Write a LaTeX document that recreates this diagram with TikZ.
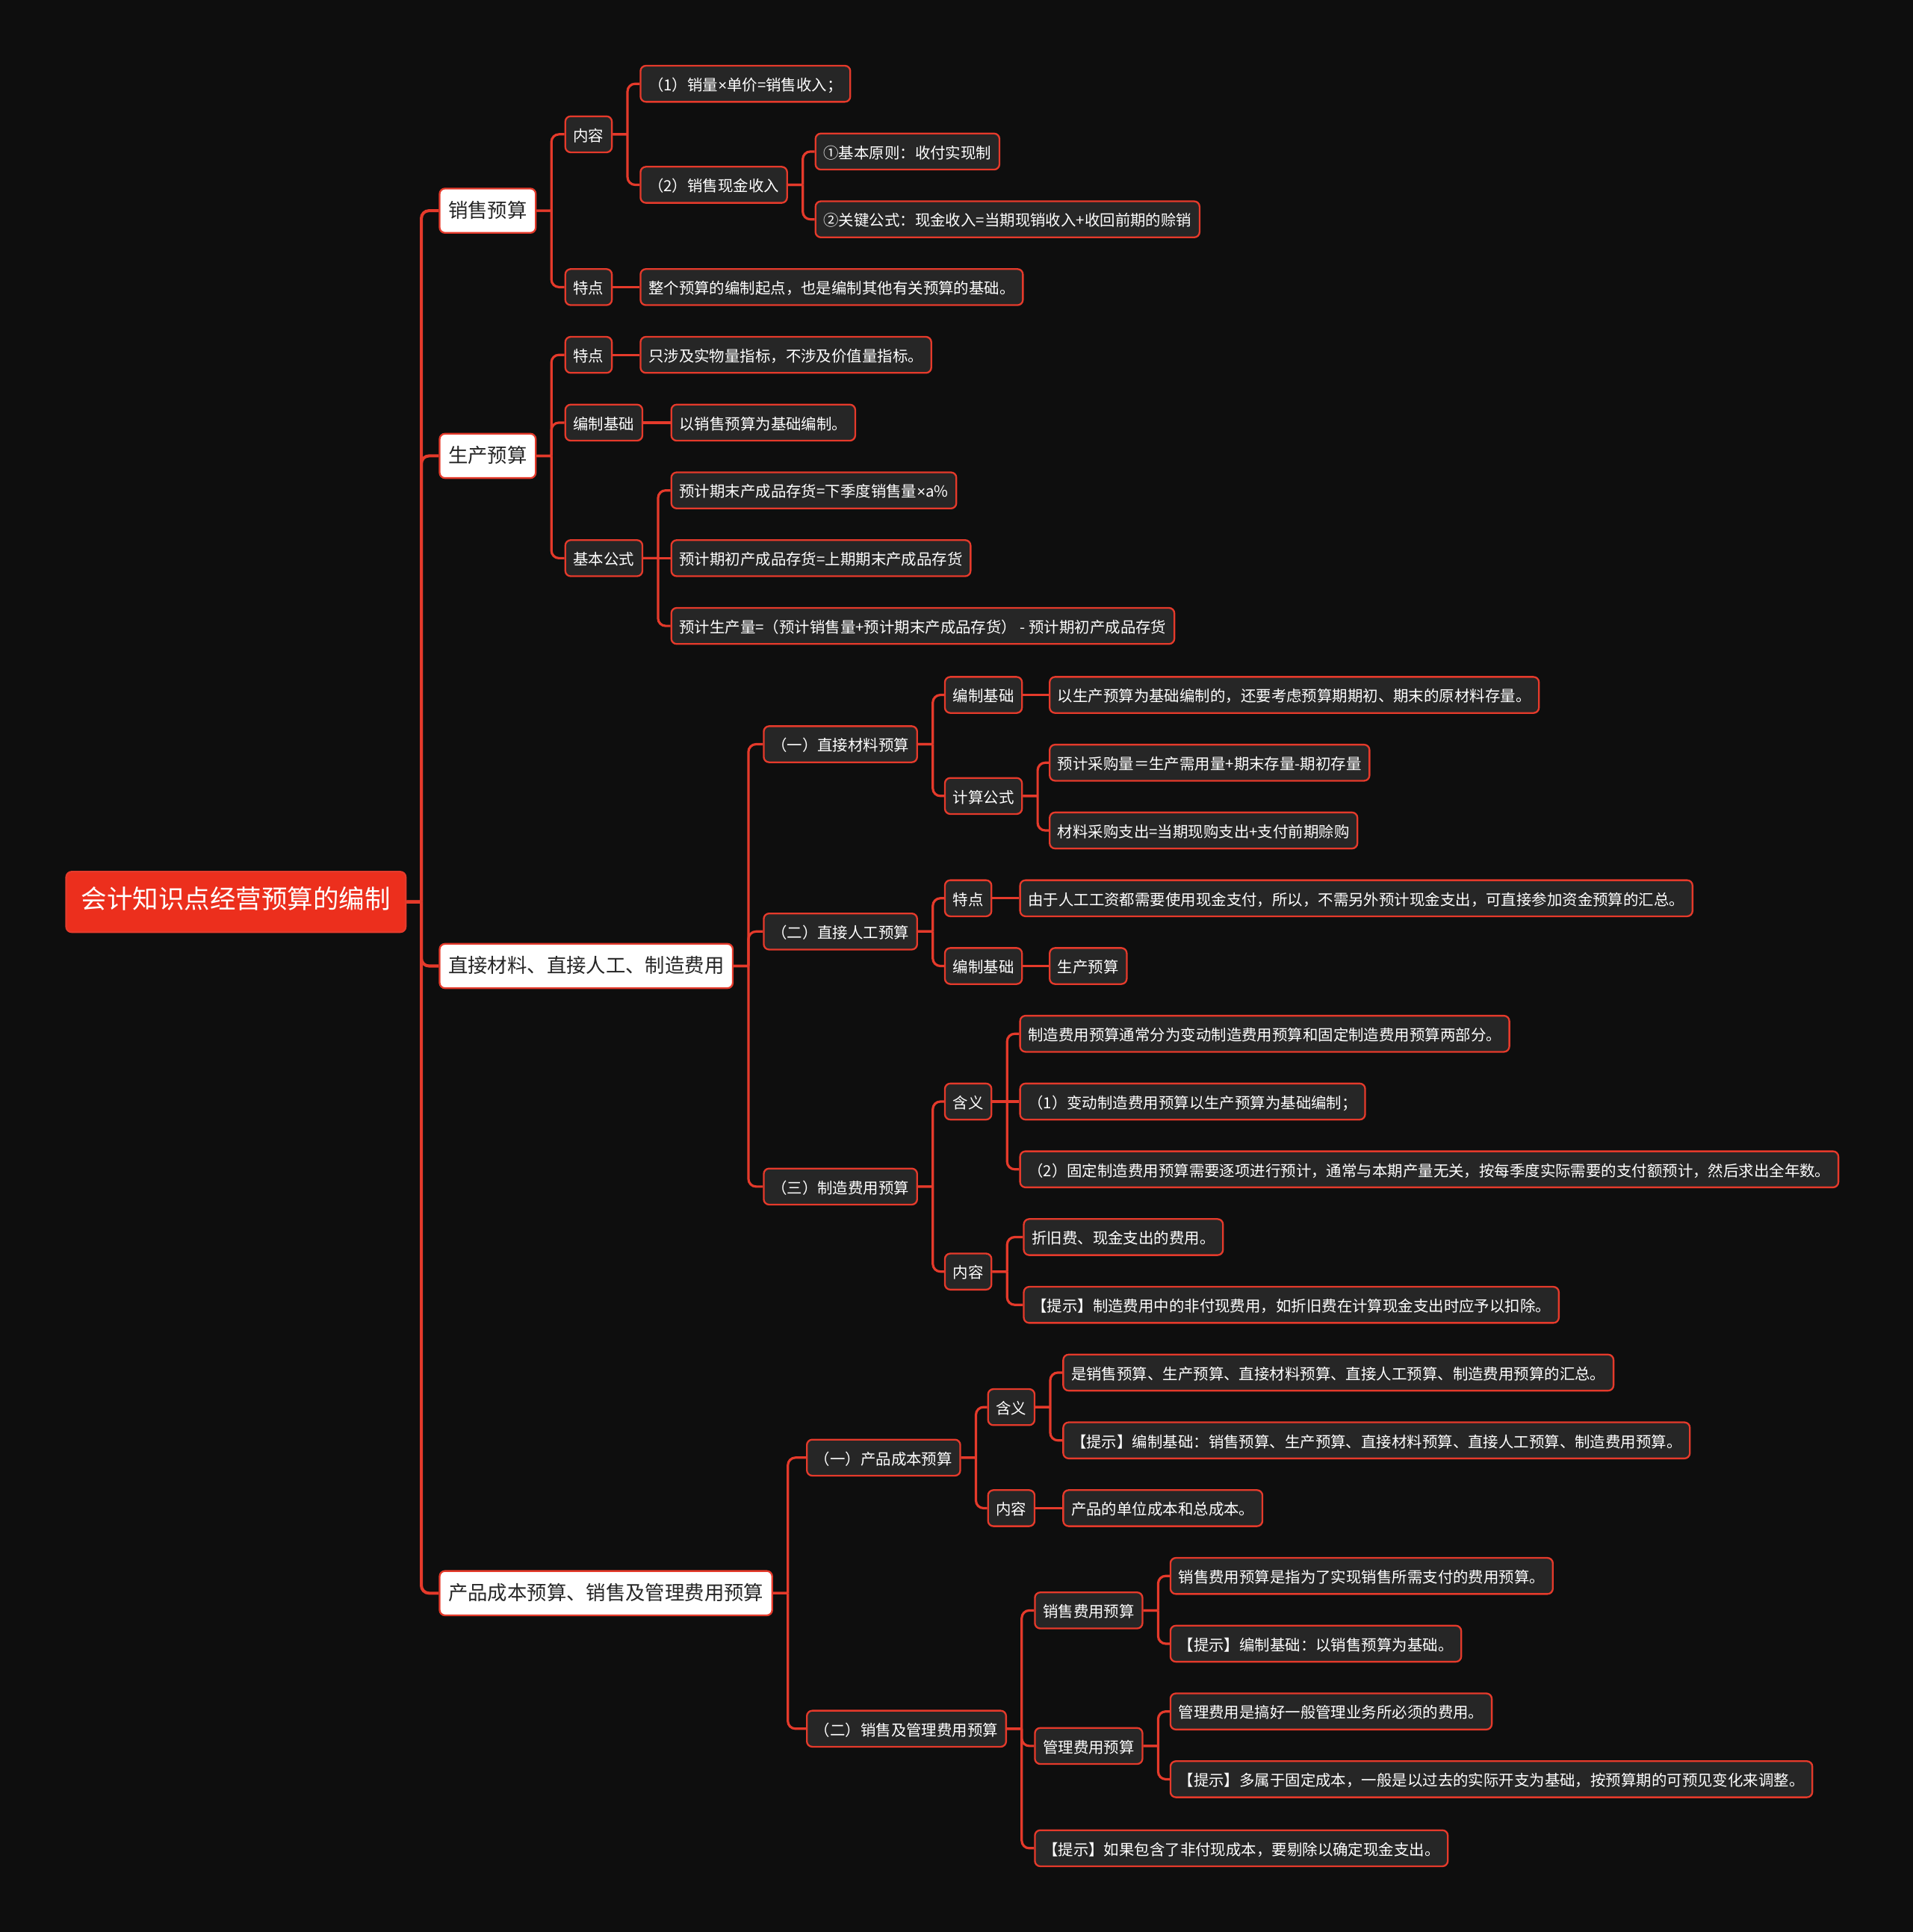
\documentclass[tikz,border=0pt]{standalone}
\usepackage{fontspec}
\setmainfont{Noto Sans CJK SC}
\newfontfamily\latinfont{Liberation Sans}
\newcommand{\tms}{{\latinfont ×}}
\definecolor{bgc}{HTML}{0E0E0E}
\definecolor{linkred}{HTML}{E53A2B}
\definecolor{boxfill}{HTML}{262626}
\definecolor{rootred}{HTML}{EC2F1D}
\tikzset{
  base/.style={anchor=west, draw=linkred, line width=0.8pt, rounded corners=2.5pt,
    text height=0.82em, text depth=0.18em},
  rootbox/.style={base, fill=rootred, text=white, font=\fontsize{11.9}{13}\selectfont,
    inner xsep=7pt, minimum height=0.98cm},
  mainbox/.style={base, fill=white, text=black!85, font=\fontsize{9.1}{10}\selectfont,
    inner xsep=4pt, minimum height=0.72cm},
  leaf/.style={base, fill=boxfill, text=white, font=\fontsize{7.05}{8}\selectfont,
    inner xsep=3.7pt, minimum height=0.52cm},
  straight/.style={draw=linkred, line width=1.1pt},
  fork/.style={straight, rounded corners=3.5pt,
    to path={-- ++(12,0) ++(0,0) |- (\tikztotarget)}},
  trunk/.style={fork, line width=1.4pt},
}
\begin{document}
\begin{tikzpicture}[x=0.02cm,y=-0.02cm]
  \fill[bgc] (0,0) rectangle (1552,1568);
  \useasboundingbox (0,0) rectangle (1552,1568);

  % root and main branches
  \node[rootbox] (root) at (53,732) {会计知识点经营预算的编制};
  \node[mainbox] (a) at (356,171) {销售预算};
  \node[mainbox] (b) at (356,370) {生产预算};
  \node[mainbox] (c) at (356,784) {直接材料、直接人工、制造费用};
  \node[mainbox] (d) at (356,1293) {产品成本预算、销售及管理费用预算};

  % 销售预算
  \node[leaf] (a1) at (458,109) {内容};
  \node[leaf] (a2) at (458,233) {特点};
  \node[leaf] (a11) at (519,68) {（1）销量\tms 单价=销售收入；};
  \node[leaf] (a12) at (519,150) {（2）销售现金收入};
  \node[leaf] (a121) at (661,123) {①基本原则：收付实现制};
  \node[leaf] (a122) at (661,178) {②关键公式：现金收入=当期现销收入+收回前期的赊销};
  \node[leaf] (a21) at (519,233) {整个预算的编制起点，也是编制其他有关预算的基础。};

  % 生产预算
  \node[leaf] (b1) at (458,288) {特点};
  \node[leaf] (b11) at (519,288) {只涉及实物量指标，不涉及价值量指标。};
  \node[leaf] (b2) at (458,343) {编制基础};
  \node[leaf] (b21) at (544,343) {以销售预算为基础编制。};
  \node[leaf] (b3) at (458,453) {基本公式};
  \node[leaf] (b31) at (544,398) {预计期末产成品存货=下季度销售量\tms a\%};
  \node[leaf] (b32) at (544,453) {预计期初产成品存货=上期期末产成品存货};
  \node[leaf] (b33) at (544,508) {预计生产量=（预计销售量+预计期末产成品存货） - 预计期初产成品存货};

  % 直接材料、直接人工、制造费用
  \node[leaf] (c1) at (619,604) {（一）直接材料预算};
  \node[leaf] (c11) at (766,564) {编制基础};
  \node[leaf] (c111) at (851,564) {以生产预算为基础编制的，还要考虑预算期期初、期末的原材料存量。};
  \node[leaf] (c12) at (766,646) {计算公式};
  \node[leaf] (c121) at (851,619) {预计采购量＝生产需用量+期末存量-期初存量};
  \node[leaf] (c122) at (851,674) {材料采购支出=当期现购支出+支付前期赊购};
  \node[leaf] (c2) at (619,756) {（二）直接人工预算};
  \node[leaf] (c21) at (766,729) {特点};
  \node[leaf] (c211) at (827,729) {由于人工工资都需要使用现金支付，所以，不需另外预计现金支出，可直接参加资金预算的汇总。};
  \node[leaf] (c22) at (766,784) {编制基础};
  \node[leaf] (c221) at (851,784) {生产预算};
  \node[leaf] (c3) at (619,963) {（三）制造费用预算};
  \node[leaf] (c31) at (766,894) {含义};
  \node[leaf] (c311) at (827,839) {制造费用预算通常分为变动制造费用预算和固定制造费用预算两部分。};
  \node[leaf] (c312) at (827,894) {（1）变动制造费用预算以生产预算为基础编制；};
  \node[leaf] (c313) at (827,949) {（2）固定制造费用预算需要逐项进行预计，通常与本期产量无关，按每季度实际需要的支付额预计，然后求出全年数。};
  \node[leaf] (c32) at (766,1032) {内容};
  \node[leaf] (c321) at (830,1004) {折旧费、现金支出的费用。};
  \node[leaf] (c322) at (830,1059) {【提示】制造费用中的非付现费用，如折旧费在计算现金支出时应予以扣除。};

  % 产品成本预算、销售及管理费用预算
  \node[leaf] (d1) at (654,1183) {（一）产品成本预算};
  \node[leaf] (d11) at (801,1142) {含义};
  \node[leaf] (d111) at (862,1114) {是销售预算、生产预算、直接材料预算、直接人工预算、制造费用预算的汇总。};
  \node[leaf] (d112) at (862,1169) {【提示】编制基础：销售预算、生产预算、直接材料预算、直接人工预算、制造费用预算。};
  \node[leaf] (d12) at (801,1224) {内容};
  \node[leaf] (d121) at (862,1224) {产品的单位成本和总成本。};
  \node[leaf] (d2) at (654,1403) {（二）销售及管理费用预算};
  \node[leaf] (d21) at (839,1307) {销售费用预算};
  \node[leaf] (d211) at (949,1279) {销售费用预算是指为了实现销售所需支付的费用预算。};
  \node[leaf] (d212) at (949,1334) {【提示】编制基础：以销售预算为基础。};
  \node[leaf] (d22) at (839,1417) {管理费用预算};
  \node[leaf] (d221) at (949,1389) {管理费用是搞好一般管理业务所必须的费用。};
  \node[leaf] (d222) at (949,1444) {【提示】多属于固定成本，一般是以过去的实际开支为基础，按预算期的可预见变化来调整。};
  \node[leaf] (d23) at (839,1500) {【提示】如果包含了非付现成本，要剔除以确定现金支出。};

  % connectors
  \foreach \c in {a,b,c,d}
    \path (root.east) edge[trunk] (\c.west);
  \foreach \p/\c in {a/a1, a/a2, a1/a11, a1/a12, a12/a121, a12/a122,
      b/b1, b/b2, b/b3, b3/b31, b3/b33,
      c/c1, c/c2, c/c3, c1/c11, c1/c12, c12/c121, c12/c122,
      c2/c21, c2/c22, c3/c31, c3/c32,
      c31/c311, c31/c313, c32/c321, c32/c322,
      d/d1, d/d2, d1/d11, d1/d12, d11/d111, d11/d112,
      d2/d21, d2/d22, d2/d23, d21/d211, d21/d212, d22/d221, d22/d222}
    \path (\p.east) edge[fork] (\c.west);
  % children level with their parent
  \foreach \p/\c in {a2/a21, b1/b11, b2/b21, b3/b32, c11/c111,
      c21/c211, c22/c221, c31/c312, d12/d121}
    \path (\p.east) edge[straight] (\c.west);
\end{tikzpicture}
\end{document}
